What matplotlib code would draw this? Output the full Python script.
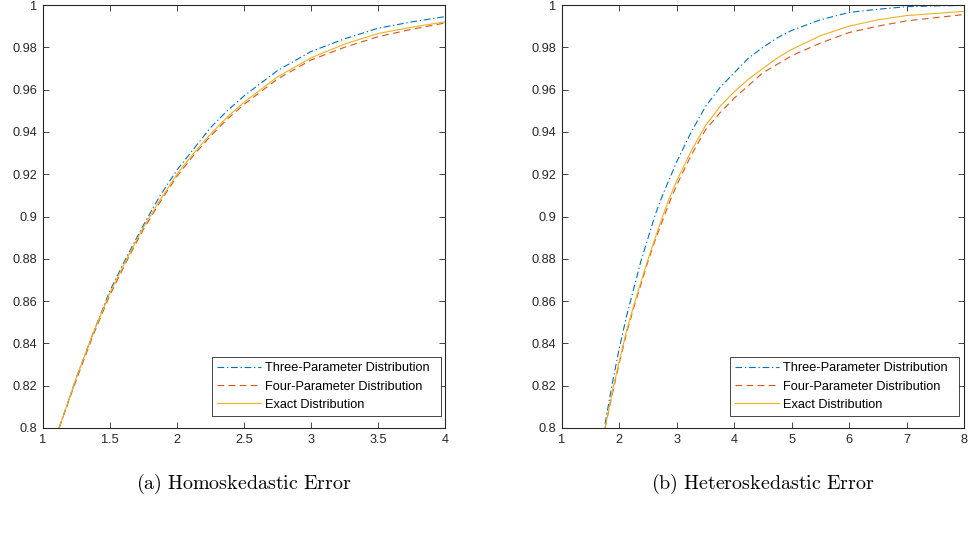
import matplotlib
matplotlib.use("Agg")
import matplotlib.pyplot as plt
from matplotlib.ticker import FormatStrFormatter

plt.rcParams["font.family"] = ["Liberation Sans", "DejaVu Sans"]
plt.rcParams["mathtext.fontset"] = "cm"

BLUE = "#0072BD"
ORANGE = "#D95319"
YELLOW = "#EDB120"
DARK = "#262626"

# (a) homoskedastic error
x_a = [1.12, 1.25, 1.375, 1.5, 1.625, 1.75, 1.875, 2.0, 2.125, 2.25, 2.375, 2.5,
       2.625, 2.75, 2.875, 3.0, 3.25, 3.5, 3.75, 4.0]
three_a = [0.800, 0.824, 0.845, 0.865, 0.881, 0.896, 0.910, 0.922, 0.932, 0.942, 0.950, 0.957,
           0.963, 0.969, 0.9735, 0.978, 0.984, 0.989, 0.992, 0.9945]
four_a = [0.800, 0.823, 0.844, 0.863, 0.879, 0.894, 0.907, 0.919, 0.929, 0.938, 0.946, 0.953,
          0.959, 0.965, 0.9695, 0.974, 0.980, 0.985, 0.9885, 0.9915]
exact_a = [0.800, 0.824, 0.845, 0.864, 0.880, 0.895, 0.908, 0.920, 0.930, 0.939, 0.947, 0.954,
           0.960, 0.966, 0.9705, 0.975, 0.9815, 0.9865, 0.9895, 0.992]

# (b) heteroskedastic error
x_b = [1.75, 1.875, 2.0, 2.125, 2.25, 2.375, 2.5, 2.625, 2.75, 2.875, 3.0, 3.125, 3.25, 3.375,
       3.5, 3.75, 4.0, 4.25, 4.5, 4.75, 5.0, 5.5, 6.0, 6.5, 7.0, 7.5, 8.0]
three_b = [0.802, 0.821, 0.838, 0.853, 0.866, 0.879, 0.890, 0.901, 0.910, 0.918, 0.926, 0.933,
           0.940, 0.946, 0.952, 0.961, 0.968, 0.975, 0.980, 0.9845, 0.988, 0.993, 0.9965, 0.998,
           0.9992, 0.9996, 0.9998]
four_b = [0.800, 0.816, 0.831, 0.845, 0.857, 0.868, 0.879, 0.889, 0.898, 0.907, 0.915, 0.922,
          0.929, 0.935, 0.941, 0.949, 0.956, 0.962, 0.968, 0.972, 0.976, 0.982, 0.987, 0.990,
          0.9925, 0.994, 0.9955]
exact_b = [0.800, 0.817, 0.832, 0.846, 0.858, 0.869, 0.880, 0.890, 0.900, 0.909, 0.917, 0.924,
           0.931, 0.937, 0.943, 0.952, 0.959, 0.965, 0.970, 0.975, 0.979, 0.9855, 0.990, 0.993,
           0.995, 0.996, 0.997]

labels = ["Three-Parameter Distribution", "Four-Parameter Distribution", "Exact Distribution"]
yticks = [0.8, 0.82, 0.84, 0.86, 0.88, 0.9, 0.92, 0.94, 0.96, 0.98, 1.0]
xticks_a = [1, 1.5, 2, 2.5, 3, 3.5, 4]
xticks_b = [1, 2, 3, 4, 5, 6, 7, 8]
captions = ["(a) Homoskedastic Error", "(b) Heteroskedastic Error"]

W, H = 968, 539
fig = plt.figure(figsize=(9.68, 5.39), dpi=100)


def panel(left, x, three, four, exact, xticks, xlim, leg_left, caption):
    ax = fig.add_axes([left / W, 1 - 428 / H, 402 / W, 423 / H])
    ax.plot(x, three, color=BLUE, lw=0.8, linestyle=(0, (6, 2.5, 1.2, 2.5)), label=labels[0])
    ax.plot(x, four, color=ORANGE, lw=0.8, linestyle=(0, (6, 4)), label=labels[1])
    ax.plot(x, exact, color=YELLOW, lw=0.8, label=labels[2])
    ax.set_xlim(*xlim)
    ax.set_ylim(0.8, 1.0)
    ax.set_xticks(xticks)
    ax.set_yticks(yticks)
    ax.xaxis.set_major_formatter(FormatStrFormatter("%g"))
    ax.yaxis.set_major_formatter(FormatStrFormatter("%g"))
    ax.tick_params(direction="in", top=True, right=True, length=4, width=0.6,
                   color=DARK, labelcolor=DARK, labelsize=9.2, pad=4)
    for s in ax.spines.values():
        s.set_color(DARK)
        s.set_linewidth(0.8)
    # legend box spans a fixed width, like the MATLAB one
    leg = ax.legend(loc="lower left", bbox_to_anchor=(leg_left / W, 1 - 416 / H, 229 / W, 57 / H),
                    bbox_transform=fig.transFigure, mode="expand", fontsize=9.2, fancybox=False,
                    edgecolor=DARK, framealpha=1, handlelength=3.4, handletextpad=0.3,
                    labelspacing=0.48, borderpad=0.42, borderaxespad=0)
    leg.get_frame().set_linewidth(0.6)
    for t in leg.get_texts():
        t.set_color("#000000")
    cx = (left + 201) / W
    fig.text(cx, 1 - 484 / H, r"$\mathrm{" + caption.replace(" ", r"\ ") + "}$",
             ha="center", va="center", fontsize=14.4)
    return ax


panel(43, x_a, three_a, four_a, exact_a, xticks_a, (1, 4), 212, captions[0])
panel(562, x_b, three_b, four_b, exact_b, xticks_b, (1, 8), 730, captions[1])

fig.savefig("out.png", dpi=100)
